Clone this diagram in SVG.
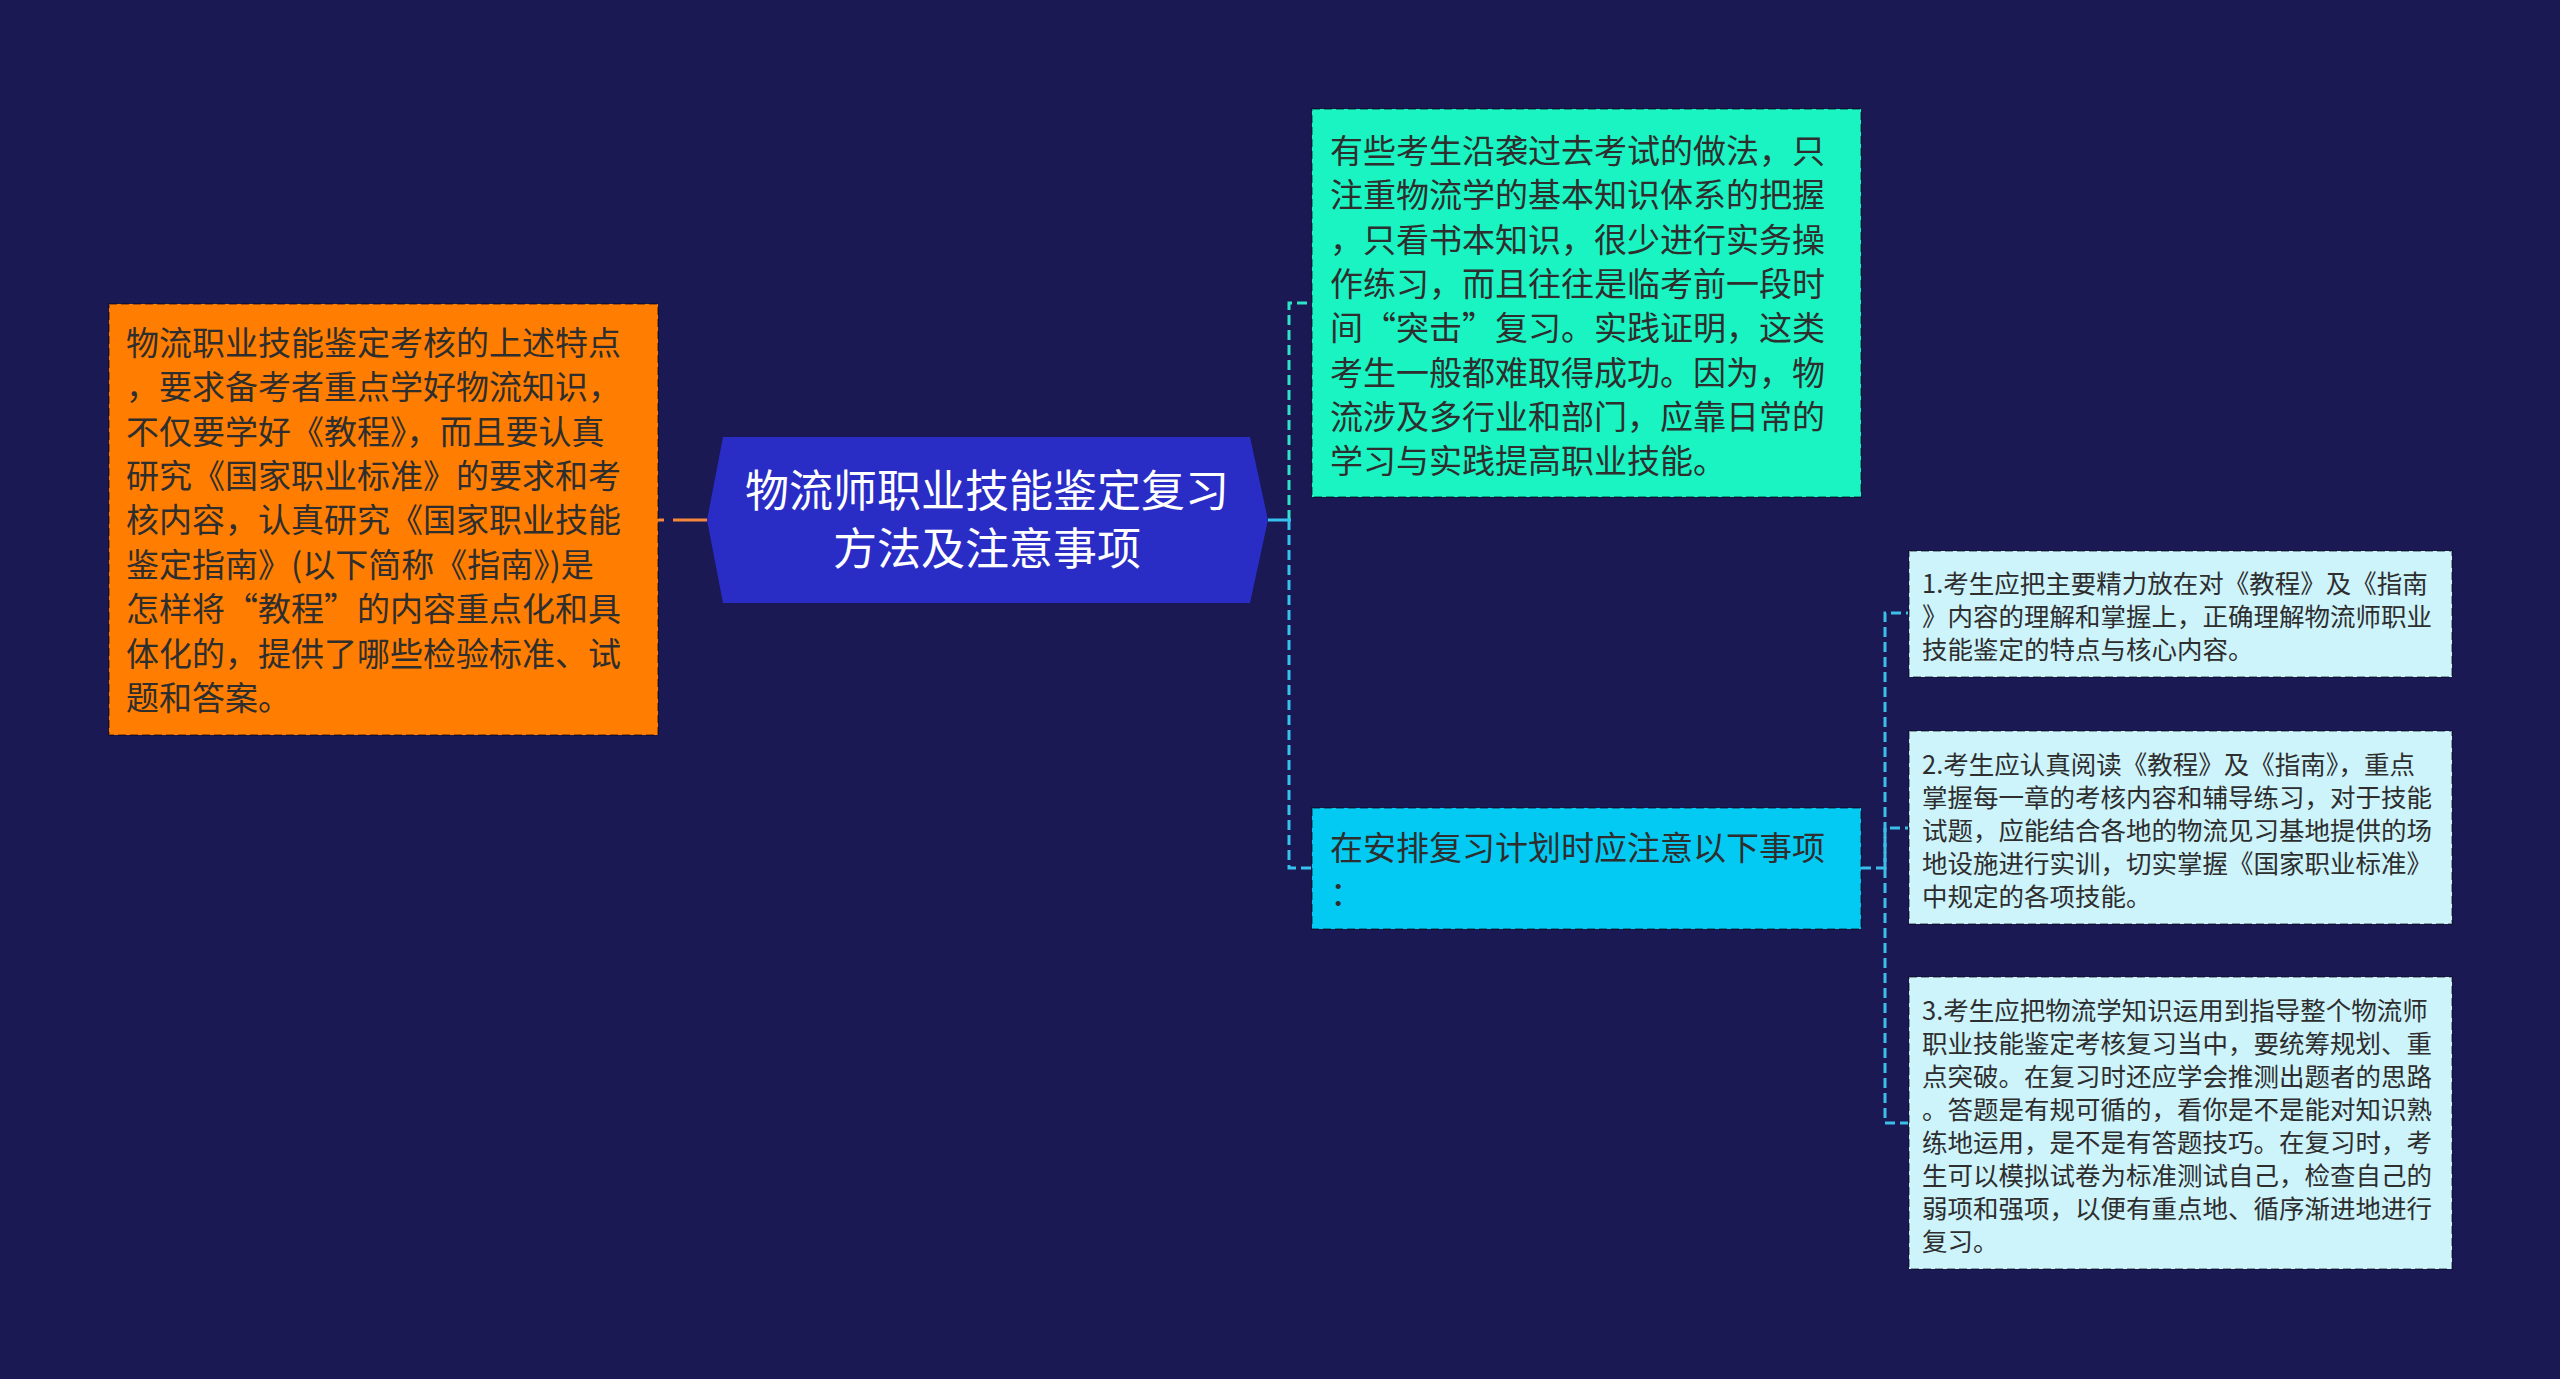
<svg xmlns="http://www.w3.org/2000/svg" width="2560" height="1379" viewBox="0 0 2560 1379">
<defs>
<style>
.t{font-family:"Noto Sans CJK SC","Noto Sans",sans-serif;dominant-baseline:central}
.big{font-size:33px;fill:#2e2e2e}
.sm{font-size:25.5px;fill:#2e2e2e}
.ctr{font-size:44px;fill:#ffffff;text-anchor:middle}
.box{stroke:#000000;stroke-opacity:0.35;stroke-width:2;stroke-dasharray:8 4}
.c{fill:none;stroke-width:3;stroke-dasharray:10 5}
</style>
</defs>
<rect x="0" y="0" width="2560" height="1379" fill="#1a1953"/>
<g id="connectors">
<path d="M707,520 H658" fill="none" stroke="#f5883a" stroke-width="3" stroke-dasharray="34 9 6 40"/>
<path class="c" d="M1289,520 V303 H1312" stroke="#2ee3c6"/>
<path class="c" d="M1289,520 V868 H1312" stroke="#36c2ee"/>
<path d="M1268,520 H1291" fill="none" stroke="#36c2ee" stroke-width="3"/>
<path class="c" d="M1861,868 H1885 V613 H1908" stroke="#3bbfe9" stroke-width="2.5" stroke-dasharray="10 7"/>
<path class="c" d="M1885,868 V828 H1908" stroke="#3bbfe9" stroke-width="2.5" stroke-dasharray="10 7"/>
<path class="c" d="M1885,868 V1123 H1908" stroke="#3bbfe9" stroke-width="2.5" stroke-dasharray="10 7"/>
</g>
<g id="root">
<polygon points="707,520 723,437 1250,437 1268,520 1250,603 723,603" fill="#2a2cc6"/>
<text class="t ctr" x="987" y="488">物流师职业技能鉴定复习</text>
<text class="t ctr" x="987" y="546">方法及注意事项</text>
</g>
<g id="node-left">
<rect class="box" x="109" y="304" width="549" height="431" fill="#ff7d00"/>
<text class="t big" x="126">
<tspan x="126" y="341">物流职业技能鉴定考核的上述特点</tspan>
<tspan x="126" y="385">，要求备考者重点学好物流知识，</tspan>
<tspan x="126" y="430">不仅要学好《教程》，而且要认真</tspan>
<tspan x="126" y="474">研究《国家职业标准》的要求和考</tspan>
<tspan x="126" y="518">核内容，认真研究《国家职业技能</tspan>
<tspan x="126" y="563">鉴定指南》(以下简称《指南》)是</tspan>
<tspan x="126" y="607">怎样将“教程”的内容重点化和具</tspan>
<tspan x="126" y="652">体化的，提供了哪些检验标准、试</tspan>
<tspan x="126" y="696">题和答案。</tspan>
</text>
</g>
<g id="node-top">
<rect class="box" x="1312" y="109" width="549" height="388" fill="#19f4c2"/>
<text class="t big">
<tspan x="1330" y="149">有些考生沿袭过去考试的做法，只</tspan>
<tspan x="1330" y="193">注重物流学的基本知识体系的把握</tspan>
<tspan x="1330" y="238">，只看书本知识，很少进行实务操</tspan>
<tspan x="1330" y="282">作练习，而且往往是临考前一段时</tspan>
<tspan x="1330" y="326">间“突击”复习。实践证明，这类</tspan>
<tspan x="1330" y="371">考生一般都难取得成功。因为，物</tspan>
<tspan x="1330" y="415">流涉及多行业和部门，应靠日常的</tspan>
<tspan x="1330" y="459">学习与实践提高职业技能。</tspan>
</text>
</g>
<g id="node-mid">
<rect class="box" x="1312" y="808" width="549" height="121" fill="#03caf3"/>
<text class="t big">
<tspan x="1330" y="846">在安排复习计划时应注意以下事项</tspan>
<tspan x="1330" y="891">：</tspan>
</text>
</g>
<g id="node-1">
<rect class="box" x="1909" y="551" width="543" height="126" fill="#cdf3fb"/>
<text class="t sm">
<tspan x="1922" y="581">1.考生应把主要精力放在对《教程》及《指南</tspan>
<tspan x="1922" y="614">》内容的理解和掌握上，正确理解物流师职业</tspan>
<tspan x="1922" y="647">技能鉴定的特点与核心内容。</tspan>
</text>
</g>
<g id="node-2">
<rect class="box" x="1909" y="731" width="543" height="193" fill="#cdf3fb"/>
<text class="t sm">
<tspan x="1922" y="762">2.考生应认真阅读《教程》及《指南》，重点</tspan>
<tspan x="1922" y="795">掌握每一章的考核内容和辅导练习，对于技能</tspan>
<tspan x="1922" y="828">试题，应能结合各地的物流见习基地提供的场</tspan>
<tspan x="1922" y="861">地设施进行实训，切实掌握《国家职业标准》</tspan>
<tspan x="1922" y="894">中规定的各项技能。</tspan>
</text>
</g>
<g id="node-3">
<rect class="box" x="1909" y="977" width="543" height="292" fill="#cdf3fb"/>
<text class="t sm">
<tspan x="1922" y="1008">3.考生应把物流学知识运用到指导整个物流师</tspan>
<tspan x="1922" y="1041">职业技能鉴定考核复习当中，要统筹规划、重</tspan>
<tspan x="1922" y="1074">点突破。在复习时还应学会推测出题者的思路</tspan>
<tspan x="1922" y="1107">。答题是有规可循的，看你是不是能对知识熟</tspan>
<tspan x="1922" y="1140">练地运用，是不是有答题技巧。在复习时，考</tspan>
<tspan x="1922" y="1173">生可以模拟试卷为标准测试自己，检查自己的</tspan>
<tspan x="1922" y="1206">弱项和强项，以便有重点地、循序渐进地进行</tspan>
<tspan x="1922" y="1239">复习。</tspan>
</text>
</g>
</svg>
